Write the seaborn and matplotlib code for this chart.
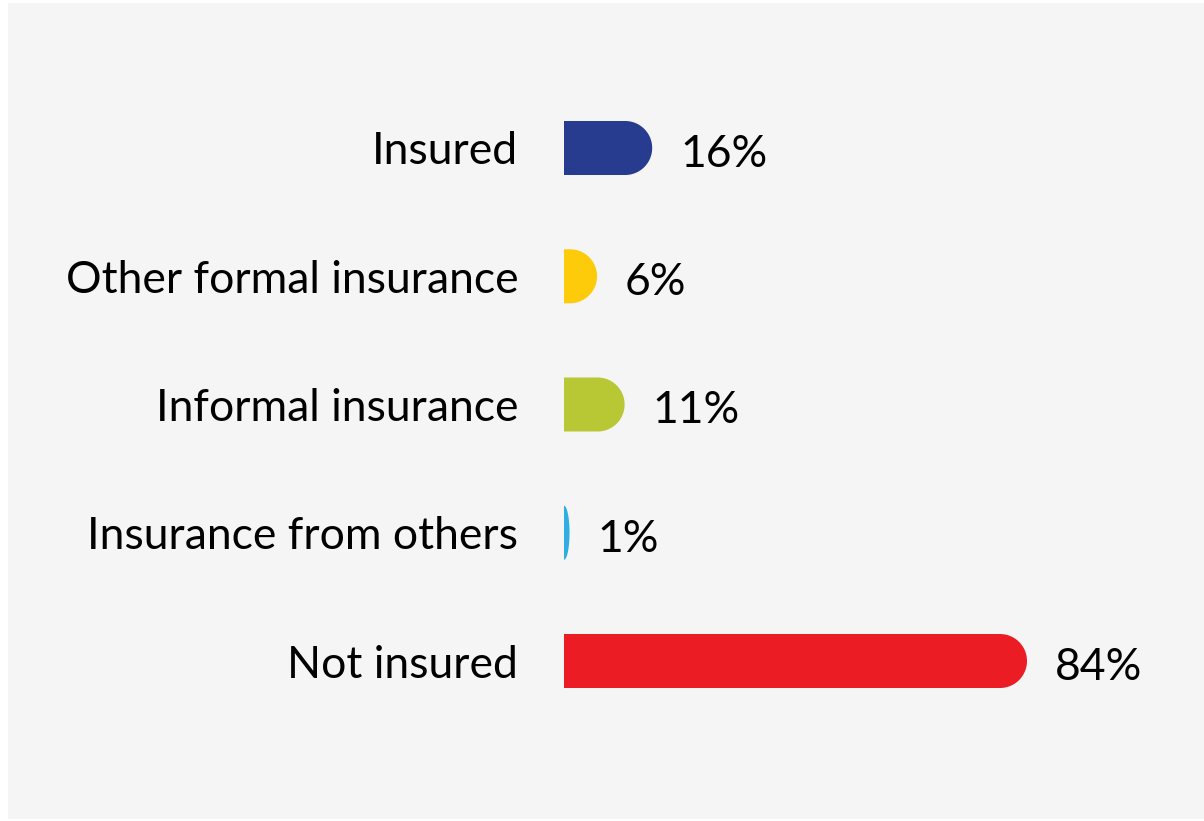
import numpy as np
import pandas as pd
import matplotlib
matplotlib.use("Agg")
import matplotlib.pyplot as plt
import seaborn as sns
from matplotlib.path import Path
from matplotlib.patches import PathPatch, Rectangle

# Insurance coverage shares (%)
categories = ["Insured", "Other formal insurance", "Informal insurance",
              "Insurance from others", "Not insured"]
shares = [16, 6, 11, 1, 84]
colors = ["#273b8f", "#fecb0b", "#b8c834", "#2eaee3", "#ec1c24"]
value_labels = [f"{v}%" for v in shares]

W, H = 1204, 821
sns.set_theme(style="white")
plt.rcParams["font.family"] = ["Lato", "DejaVu Sans"]

fig = plt.figure(figsize=(W / 100, H / 100), dpi=100)
fig.patch.set_facecolor("white")
fig.add_artist(Rectangle((8 / W, 2 / H), (W - 8) / W, 816 / H,
                         transform=fig.transFigure, facecolor="#f5f5f5",
                         edgecolor="none", zorder=0))

# axes geometry in pixels
x0_px = 564
px_per_unit = (1027 - 564) / 84
row_px = 128.25
top_px = 148 - 0.5 * row_px
ax_h_px = 5 * row_px
ax_w_px = 100 * px_per_unit
ax = fig.add_axes([x0_px / W, (H - top_px - ax_h_px) / H, ax_w_px / W, ax_h_px / H])
ax.set_facecolor("none")

df = pd.DataFrame({"category": categories, "share": shares})
bar_h_px = 54
sns.barplot(data=df, x="share", y="category", hue="category", palette=colors,
            saturation=1, width=bar_h_px / row_px, legend=False, ax=ax)

ax.set_xlim(0, 100)
ax.set_ylim(4.5, -0.5)

# replace the square bar ends with rounded caps
cap_rx_units = (bar_h_px / 2) / px_per_unit
for patch in list(ax.patches):
    x, y = patch.get_x(), patch.get_y()
    w, h = patch.get_width(), patch.get_height()
    fc = patch.get_facecolor()
    patch.remove()
    rx = min(w, cap_rx_units)
    ry = h / 2
    yc = y + ry
    cx = x + w - rx
    t = np.linspace(-np.pi / 2, np.pi / 2, 60)
    arc = np.column_stack([cx + rx * np.cos(t), yc + ry * np.sin(t)])
    verts = np.vstack([[x, y], arc, [x, y + h], [x, y]])
    codes = [Path.MOVETO] + [Path.LINETO] * (len(verts) - 2) + [Path.CLOSEPOLY]
    ax.add_patch(PathPatch(Path(verts, codes), facecolor=fc, edgecolor="none"))

gap_units = 28 / px_per_unit
for i, (v, lab) in enumerate(zip(shares, value_labels)):
    ax.text(v + gap_units, i + 0.05, lab, ha="left", va="center",
            fontsize=32, color="black")

ax.set_xlabel("")
ax.set_ylabel("")
ax.set_xticks([])
ax.tick_params(axis="y", length=0, pad=33, labelsize=32, labelcolor="black")
for s in ax.spines.values():
    s.set_visible(False)

fig.savefig("out.png", dpi=100, facecolor=fig.get_facecolor())
